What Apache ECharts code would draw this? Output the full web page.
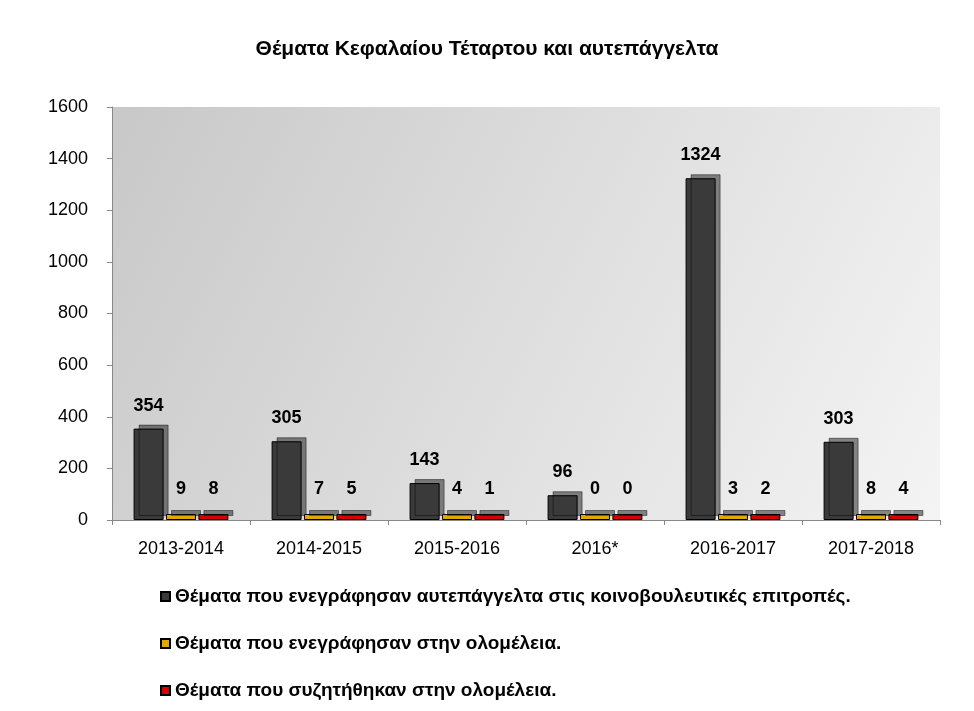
<!DOCTYPE html>
<html><head><meta charset="utf-8">
<script src="https://cdn.jsdelivr.net/npm/echarts@6/dist/echarts.min.js"></script>
<style>html,body{margin:0;padding:0;background:#fff}#c{width:974px;height:711px}</style>
</head><body><div id="c"></div>
<script>
const categories = ['2013-2014','2014-2015','2015-2016','2016*','2016-2017','2017-2018'];
const committeeTopics = [354, 305, 143, 96, 1324, 303];
const plenaryRegistered = [9, 7, 4, 0, 3, 8];
const plenaryDiscussed = [8, 5, 1, 0, 2, 4];
const seriesNames = [
  'Θέματα που ενεγράφησαν αυτεπάγγελτα στις κοινοβουλευτικές επιτροπές.',
  'Θέματα που ενεγράφησαν στην ολομέλεια.',
  'Θέματα που συζητήθηκαν στην ολομέλεια.'
];
const colors = ['#3a3a3a', '#e0a800', '#d40000'];

const chart = echarts.init(document.getElementById('c'), null, { renderer: 'canvas' });
const font = 'Arial, "Liberation Sans", sans-serif';

function bar(name, data, color, i){
  return {
    name, type: 'bar', data, barWidth: 30, barMinHeight: 6,
    itemStyle: { color, borderColor: '#000', borderWidth: 1, shadowColor: 'rgba(0,0,0,0.45)', shadowOffsetX: 5, shadowOffsetY: -4 },
    label: { show: true, position: 'top', distance: i === 0 ? 14 : 16, fontWeight: 'bold', fontSize: 18, color: '#000', fontFamily: font }
  };
}

chart.setOption({
  backgroundColor: '#fff',
  animation: false,
  textStyle: { fontFamily: font },
  title: { text: 'Θέματα Κεφαλαίου Τέταρτου και αυτεπάγγελτα', left: 'center', top: 34,
    textStyle: { fontSize: 21, fontWeight: 'bold', color: '#000', fontFamily: font } },
  grid: { left: 112, right: 34, top: 107, bottom: 191, show: true, borderWidth: 0,
    backgroundColor: { type: 'linear', x: 0, y: 0, x2: 1, y2: 1, colorStops: [{offset: 0, color: '#c8c8c8'}, {offset: 1, color: '#f4f4f4'}] } },
  legend: { orient: 'vertical', left: 155, top: 582, itemGap: 28, itemWidth: 9, itemHeight: 9, icon: 'rect',
    textStyle: { fontSize: 19, fontWeight: 'bold', color: '#000', fontFamily: font } },
  xAxis: { type: 'category', data: categories,
    axisLine: { lineStyle: { color: '#888' } }, axisTick: { show: true, lineStyle: { color: '#888' } },
    axisLabel: { fontSize: 18, color: '#000', margin: 20 } },
  yAxis: { type: 'value', min: 0, max: 1600, interval: 200,
    axisLine: { show: true, lineStyle: { color: '#888' } }, axisTick: { show: true },
    splitLine: { show: false },
    axisLabel: { fontSize: 18, color: '#000', margin: 24, formatter: v => String(v) } },
  series: [
    bar(seriesNames[0], committeeTopics, colors[0], 0),
    bar(seriesNames[1], plenaryRegistered, colors[1], 1),
    bar(seriesNames[2], plenaryDiscussed, colors[2], 2)
  ].map(s => Object.assign(s, { barGap: '8%', barCategoryGap: '30%' }))
});
</script></body></html>
